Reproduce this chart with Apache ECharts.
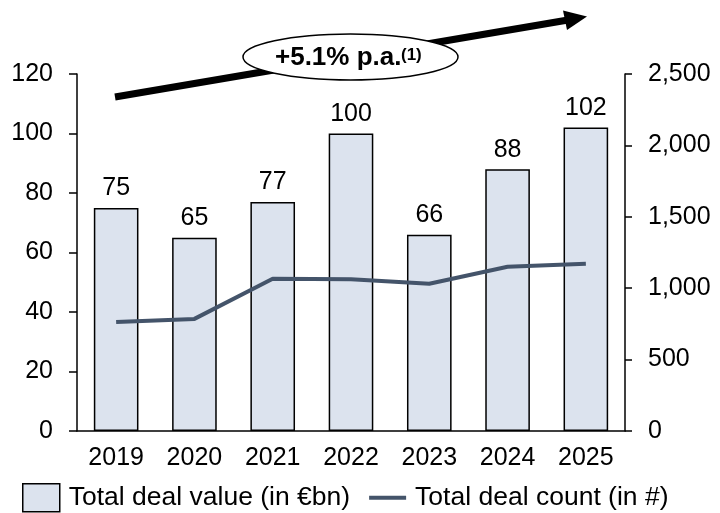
<!DOCTYPE html>
<html>
<head>
<meta charset="utf-8">
<script src="https://cdn.jsdelivr.net/npm/echarts@6/dist/echarts.min.js"></script>
<style>
  html, body { margin: 0; padding: 0; background: #fff; }
  #chart { width: 720px; height: 513px; }
</style>
</head>
<body>
<div id="chart"></div>
<script>
// Deal market overview: value (bars, left axis) and count (line, right axis)
const years = ['2019', '2020', '2021', '2022', '2023', '2024', '2025'];
const dealValue = [75, 65, 77, 100, 66, 88, 102];
const dealCount = [764, 785, 1066, 1062, 1031, 1150, 1171];
const valueTicks = { min: 0, max: 120, interval: 20 };
const countTicks = { min: 0, max: 2500, interval: 500 };

const FONT = '"Liberation Sans", Arial, sans-serif';
const LINE_COLOR = '#44546a';
const chart = echarts.init(document.getElementById('chart'));

chart.setOption({
  animation: false,
  textStyle: { fontFamily: FONT },
  grid: { left: 77, right: 95, top: 74, bottom: 82 },
  legend: {
    top: 478,
    left: 17,
    itemGap: 19,
    itemWidth: 37,
    itemHeight: 28,
    textStyle: { fontSize: 26.5, color: '#000', fontFamily: FONT, padding: [0, 0, 0, 4] },
    data: [
      {
        name: 'Total deal value (in €bn)',
        icon: 'rect',
        itemStyle: { color: '#dce3ee', borderColor: '#000', borderWidth: 1.5 }
      },
      {
        name: 'Total deal count (in #)',
        icon: 'path://M0,0H37V4H0Z',
        itemStyle: { color: LINE_COLOR }
      }
    ]
  },
  xAxis: {
    type: 'category',
    data: years,
    axisLine: { lineStyle: { color: '#000', width: 1.5 } },
    axisTick: { show: false },
    axisLabel: { fontSize: 25, color: '#000', margin: 15, fontFamily: FONT }
  },
  yAxis: [
    {
      type: 'value',
      min: valueTicks.min, max: valueTicks.max, interval: valueTicks.interval,
      position: 'left',
      axisLine: { show: true, lineStyle: { color: '#000', width: 1.5 } },
      axisTick: { show: true, length: 8, lineStyle: { color: '#000', width: 1.5 } },
      splitLine: { show: false },
      axisLabel: { fontSize: 25, color: '#000', margin: 24, fontFamily: FONT }
    },
    {
      type: 'value',
      min: countTicks.min, max: countTicks.max, interval: countTicks.interval,
      position: 'right',
      axisLine: { show: true, lineStyle: { color: '#000', width: 1.5 } },
      axisTick: { show: true, length: 7, lineStyle: { color: '#000', width: 1.5 } },
      splitLine: { show: false },
      axisLabel: {
        fontSize: 25, color: '#000', margin: 23, fontFamily: FONT,
        formatter: v => v.toLocaleString('en-US')
      }
    }
  ],
  series: [
    {
      name: 'Total deal value (in €bn)',
      type: 'bar',
      yAxisIndex: 0,
      data: dealValue,
      barWidth: '57%',
      itemStyle: { color: '#dce3ee', borderColor: '#000', borderWidth: 1.5 },
      label: {
        show: true, position: 'top', distance: 7,
        fontSize: 25, color: '#000', fontFamily: FONT
      }
    },
    {
      name: 'Total deal count (in #)',
      type: 'line',
      yAxisIndex: 1,
      data: dealCount,
      symbol: 'none',
      lineStyle: { color: LINE_COLOR, width: 4 },
      itemStyle: { color: LINE_COLOR },
      z: 5
    }
  ],
  graphic: [
    {
      // growth arrow shaft
      type: 'line',
      shape: { x1: 115, y1: 97, x2: 568, y2: 20 },
      style: { stroke: '#000', lineWidth: 7 },
      z: 10
    },
    {
      // arrow head
      type: 'polygon',
      shape: { points: [[587, 16.5], [563, 10.5], [567, 30]] },
      style: { fill: '#000' },
      z: 10
    },
    {
      type: 'ellipse',
      shape: { cx: 350.5, cy: 57, rx: 107.5, ry: 23 },
      style: { fill: '#fff', stroke: '#000', lineWidth: 1.5 },
      z: 11
    },
    {
      type: 'text',
      x: 275,
      y: 58,
      style: {
        text: '+5.1% p.a.',
        font: 'bold 26px ' + FONT,
        fill: '#000',
        verticalAlign: 'middle'
      },
      z: 12
    },
    {
      type: 'text',
      x: 401,
      y: 55,
      style: {
        text: '(1)',
        font: 'bold 17px ' + FONT,
        fill: '#000',
        verticalAlign: 'middle'
      },
      z: 12
    }
  ]
});
</script>
</body>
</html>
